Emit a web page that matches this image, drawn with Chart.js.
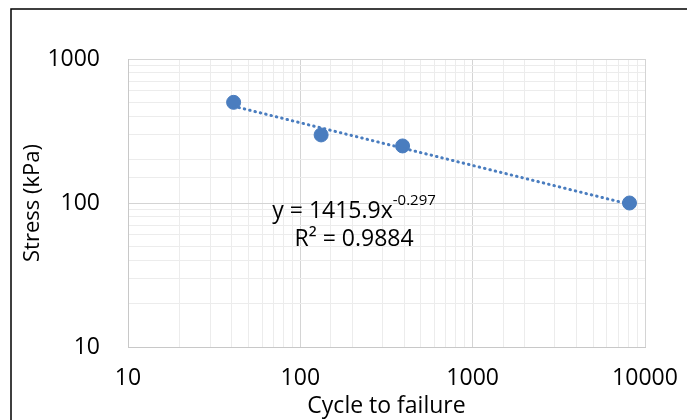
<!DOCTYPE html>
<html>
<head>
<meta charset="utf-8">
<script src="https://cdn.jsdelivr.net/npm/chart.js@4"></script>
<style>
  html, body { margin: 0; padding: 0; background: #fff; }
  #wrap { width: 687px; height: 420px; }
</style>
</head>
<body>
<div id="wrap"><canvas id="chart"></canvas></div>
<script>
// values
const cycles = [41, 132, 392, 8130];
const stress = [500, 297, 249, 100];
// trendline end points (power fit, straight on log-log)
const trendCycles = [41, 8130];
const trendStress = [470, 98];
const equationText = 'y = 1415.9x';
const equationExp = '-0.297';
const r2Text = 'R\u00B2 = 0.9884';

const blue = '#4a7dbf';
const font = '"Open Sans", sans-serif';

function isDecade(v) {
    const l = Math.log10(v);
    return Math.abs(l - Math.round(l)) < 1e-9;
}

const framePlugin = {
    id: 'frame',
    beforeDraw(chart) {
        const c = chart.ctx;
        c.save();
        c.fillStyle = '#fff';
        c.fillRect(0, 0, chart.width, chart.height);
        c.strokeStyle = '#000';
        c.lineWidth = 1.5;
        c.strokeRect(11, 9, 720, 460);
        c.restore();
    }
};

const labelPlugin = {
    id: 'trendLabel',
    afterDatasetsDraw(chart) {
        const c = chart.ctx;
        const xs = chart.scales.x, ys = chart.scales.y;
        const cx = xs.getPixelForValue(205);
        const y1 = ys.getPixelForValue(100);
        c.save();
        c.fillStyle = '#000';
        c.textBaseline = 'middle';
        c.font = '23px ' + font;
        const w1 = c.measureText(equationText).width;
        c.font = '15px ' + font;
        const w2 = c.measureText(equationExp).width;
        let x0 = cx - (w1 + w2) / 2;
        c.font = '23px ' + font;
        c.textAlign = 'left';
        c.fillText(equationText, x0, y1 + 8);
        c.font = '15px ' + font;
        c.fillText(equationExp, x0 + w1, y1 - 2);
        c.font = '23px ' + font;
        c.textAlign = 'center';
        c.fillText(r2Text, cx, y1 + 36);
        c.restore();
    }
};

new Chart(document.getElementById('chart'), {
    type: 'scatter',
    data: {
        datasets: [
            {
                label: 'trend',
                data: trendCycles.map((x, i) => ({ x: x, y: trendStress[i] })),
                showLine: true,
                borderColor: blue,
                borderWidth: 3,
                borderDash: [0.5, 5],
                borderCapStyle: 'round',
                pointRadius: 0,
                fill: false
            },
            {
                label: 'data',
                data: cycles.map((x, i) => ({ x: x, y: stress[i] })),
                backgroundColor: blue,
                borderColor: blue,
                pointRadius: 7,
                pointHoverRadius: 7
            }
        ]
    },
    options: {
        responsive: true,
        maintainAspectRatio: false,
        animation: false,
        layout: { padding: { left: 12, top: 59, right: 42, bottom: 0 } },
        plugins: {
            legend: { display: false },
            tooltip: { enabled: false }
        },
        scales: {
            x: {
                type: 'logarithmic',
                min: 10,
                max: 10000,
                afterFit: s => { s.height = 73; s.paddingLeft = 0; s.paddingRight = 0; },
                border: { color: '#c8c8c8', width: 1 },
                grid: {
                    drawTicks: false,
                    color: ctx => isDecade(ctx.tick.value) ? '#d4d4d4' : '#ececec'
                },
                ticks: {
                    autoSkip: false,
                    maxRotation: 0,
                    padding: 18,
                    color: '#000',
                    font: { family: font, size: 23 },
                    callback: v => isDecade(v) ? String(v) : ''
                },
                title: {
                    display: true,
                    text: 'Cycle to failure',
                    color: '#000',
                    font: { family: font, size: 23 },
                    padding: { top: -8, bottom: 0 }
                }
            },
            y: {
                type: 'logarithmic',
                min: 10,
                max: 1000,
                afterFit: s => { s.width = 116; s.paddingTop = 0; s.paddingBottom = 0; },
                border: { color: '#c8c8c8', width: 1 },
                grid: {
                    drawTicks: false,
                    color: ctx => isDecade(ctx.tick.value) ? '#d4d4d4' : '#ececec'
                },
                ticks: {
                    autoSkip: false,
                    padding: 28,
                    color: '#000',
                    font: { family: font, size: 23 },
                    callback: v => isDecade(v) ? String(v) : ''
                },
                title: {
                    display: true,
                    text: 'Stress (kPa)',
                    color: '#000',
                    font: { family: font, size: 22 },
                    padding: { top: 8, bottom: 0 }
                }
            }
        }
    },
    plugins: [framePlugin, labelPlugin]
});
</script>
</body>
</html>
